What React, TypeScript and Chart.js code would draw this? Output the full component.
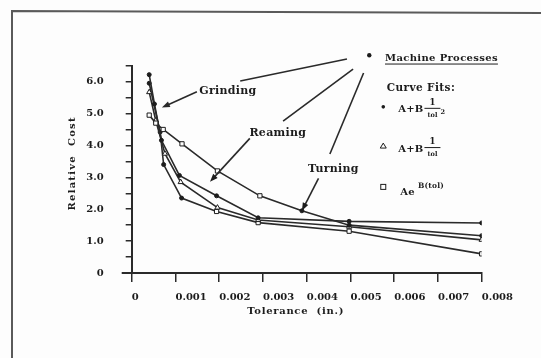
import React, { useEffect, useRef } from 'react';
import { Chart, registerables } from 'chart.js';

Chart.register(...registerables);

// ---- data ----
const xTickLabels = ['0', '0.001', '0.002', '0.003', '0.004', '0.005', '0.006', '0.007', '0.008'];
const yTickLabels = ['0', '1.0', '2.0', '3.0', '4.0', '5.0', '6.0'];

const tolUpper = [0.0004, 0.00055, 0.00072, 0.00115, 0.00196, 0.00293, 0.00389, 0.00497, 0.008];
const costUpper = [4.95, 4.7, 4.5, 4.05, 3.2, 2.42, 1.95, 1.5, 1.17];
const markUpper = ['rect', 'rect', 'rect', 'rect', 'rect', 'rect', 'circle', 'circle', 'circle'];

const tolFlat = [0.0004, 0.00052, 0.00068, 0.00109, 0.00194, 0.00289, 0.00497, 0.008];
const costFlat = [6.22, 5.3, 4.16, 3.06, 2.42, 1.73, 1.62, 1.57];
const markFlat = ['circle', 'circle', 'circle', 'circle', 'circle', 'circle', 'circle', 'circle'];

const tolTri = [0.0004, 0.00055, 0.00076, 0.00112, 0.00196, 0.00289, 0.00497, 0.008];
const costTri = [5.67, 4.78, 3.74, 2.85, 2.05, 1.66, 1.45, 1.04];
const markTri = ['triangle', 'triangle', 'triangle', 'triangle', 'triangle', 'triangle', 'triangle', 'triangle'];

const tolLow = [0.0004, 0.00065, 0.00073, 0.00114, 0.00194, 0.00289, 0.00497, 0.008];
const costLow = [5.95, 4.42, 3.4, 2.35, 1.93, 1.58, 1.31, 0.6];
const markLow = ['circle', 'circle', 'circle', 'circle', 'rect', 'rect', 'rect', 'rect'];

const seriesList = [
  { tol: tolUpper, cost: costUpper, marks: markUpper },
  { tol: tolFlat, cost: costFlat, marks: markFlat },
  { tol: tolTri, cost: costTri, marks: markTri },
  { tol: tolLow, cost: costLow, marks: markLow },
];

// ---- annotation anchors (data units) ----
const hub = { x: 0.00543, y: 6.83 };
const processNotes = [
  { text: 'Grinding', at: [0.0022, 5.71], arrow: [0.00149, 5.68, 0.00069, 5.19], link: [0.00248, 6.02, 0.00492, 6.71] },
  { text: 'Reaming', at: [0.00334, 4.38], arrow: [0.0027, 4.22, 0.00179, 2.86], link: [0.00346, 4.76, 0.00506, 6.39] },
  { text: 'Turning', at: [0.00461, 3.26], arrow: [0.00427, 2.97, 0.00389, 1.95], link: [0.00453, 3.73, 0.0053, 6.27] },
];
const legendTitle = { text: 'Machine Processes', x: 0.00579, y: 6.74 };
const fitsTitle = { text: 'Curve Fits:', x: 0.00583, y: 5.79 };
const fitRowMarkX = 0.00575;
const fitRows = [
  { mark: 'circle', y: 5.21, kind: 'inv2' },
  { mark: 'triangle', y: 3.98, kind: 'inv' },
  { mark: 'rect', y: 2.7, kind: 'exp' },
];

const FONT = '"DejaVu Serif", serif';
const INK = '#1c1c1c';
const LINE = '#2a2a2a';

function txt(ctx: CanvasRenderingContext2D, s: string, x: number, y: number, size: number, align: CanvasTextAlign = 'left', spacing = 0.5) {
  ctx.font = `bold ${size}px ${FONT}`;
  (ctx as any).letterSpacing = `${spacing}px`;
  ctx.textAlign = align;
  ctx.textBaseline = 'middle';
  ctx.fillStyle = INK;
  ctx.fillText(s, x, y);
  return ctx.measureText(s).width;
}

function arrow(ctx: CanvasRenderingContext2D, x1: number, y1: number, x2: number, y2: number) {
  const ang = Math.atan2(y2 - y1, x2 - x1);
  const L = 8, W = 3;
  ctx.beginPath();
  ctx.moveTo(x1, y1);
  ctx.lineTo(x2 - Math.cos(ang) * L * 0.7, y2 - Math.sin(ang) * L * 0.7);
  ctx.stroke();
  ctx.beginPath();
  ctx.moveTo(x2, y2);
  ctx.lineTo(x2 - Math.cos(ang) * L + Math.sin(ang) * W, y2 - Math.sin(ang) * L - Math.cos(ang) * W);
  ctx.lineTo(x2 - Math.cos(ang) * L - Math.sin(ang) * W, y2 - Math.sin(ang) * L + Math.cos(ang) * W);
  ctx.closePath();
  ctx.fill();
}

function marker(ctx: CanvasRenderingContext2D, kind: string, x: number, y: number) {
  ctx.lineWidth = 1;
  ctx.strokeStyle = INK;
  ctx.fillStyle = INK;
  if (kind === 'circle') {
    ctx.beginPath();
    ctx.arc(x, y, 1.8, 0, Math.PI * 2);
    ctx.fill();
  } else if (kind === 'triangle') {
    ctx.beginPath();
    ctx.moveTo(x, y - 3);
    ctx.lineTo(x + 3, y + 2);
    ctx.lineTo(x - 3, y + 2);
    ctx.closePath();
    ctx.stroke();
  } else {
    ctx.strokeRect(x - 2.5, y - 2.5, 5, 5);
  }
}

const decor = {
  id: 'decor',
  beforeDraw(chart: any) {
    const { ctx, width, height } = chart;
    ctx.save();
    ctx.fillStyle = '#fdfdfd';
    ctx.fillRect(0, 0, width, height);
    ctx.strokeStyle = '#5a5a5a';
    ctx.lineWidth = 2;
    ctx.beginPath();
    ctx.moveTo(12, height);
    ctx.lineTo(12, 11);
    ctx.lineTo(width, 13);
    ctx.stroke();
    ctx.restore();
  },
  afterDraw(chart: any) {
    const { ctx, chartArea } = chart;
    const xs = chart.scales.x, ys = chart.scales.y;
    const px = (v: number) => xs.getPixelForValue(v);
    const py = (v: number) => ys.getPixelForValue(v);
    ctx.save();
    ctx.strokeStyle = LINE;
    ctx.lineWidth = 2;
    ctx.beginPath();
    ctx.moveTo(chartArea.left - 10, chartArea.bottom);
    ctx.lineTo(chartArea.left, chartArea.bottom);
    ctx.stroke();

    txt(ctx, 'Tolerance  (in.)', (chartArea.left + chartArea.right) / 2 - 11, chartArea.bottom + 38, 10, 'center', 0.7);
    ctx.save();
    ctx.translate(chartArea.left - 59, (chartArea.top + chartArea.bottom) / 2 - 6);
    ctx.rotate(-Math.PI / 2);
    txt(ctx, 'Relative  Cost', 0, 0, 10, 'center', 1.2);
    ctx.restore();

    ctx.strokeStyle = LINE;
    ctx.fillStyle = LINE;
    ctx.lineWidth = 1.6;
    for (const n of processNotes) {
      ctx.beginPath();
      ctx.moveTo(px(n.link[0]), py(n.link[1]));
      ctx.lineTo(px(n.link[2]), py(n.link[3]));
      ctx.stroke();
      arrow(ctx, px(n.arrow[0]), py(n.arrow[1]), px(n.arrow[2]), py(n.arrow[3]));
      txt(ctx, n.text, px(n.at[0]), py(n.at[1]), 11, 'center', 0.3);
    }
    ctx.fillStyle = INK;
    ctx.beginPath();
    ctx.arc(px(hub.x), py(hub.y), 2.2, 0, Math.PI * 2);
    ctx.fill();

    const lw = txt(ctx, legendTitle.text, px(legendTitle.x), py(legendTitle.y), 10, 'left', 0.35);
    ctx.strokeStyle = INK;
    ctx.lineWidth = 1;
    ctx.beginPath();
    ctx.moveTo(px(legendTitle.x), py(legendTitle.y) + 6);
    ctx.lineTo(px(legendTitle.x) + lw, py(legendTitle.y) + 6);
    ctx.stroke();
    txt(ctx, fitsTitle.text, px(fitsTitle.x), py(fitsTitle.y), 10.5, 'left', 0.4);

    for (const r of fitRows) {
      const mx = px(fitRowMarkX), my = py(r.y);
      marker(ctx, r.mark, mx, my);
      const left = mx + 15;
      if (r.kind === 'exp') {
        const w = txt(ctx, 'Ae', left + 2, my + 6, 10, 'left', 0.3);
        txt(ctx, 'B(tol)', left + 2 + w + 3, my - 0.5, 7.5, 'left', 0.2);
      } else {
        const w = txt(ctx, 'A+B', left, my + 3, 10, 'left', 0.2);
        const fx = left + w + 9;
        txt(ctx, '1', fx, my - 4, 8.5, 'center', 0);
        ctx.strokeStyle = INK;
        ctx.lineWidth = 1;
        ctx.beginPath();
        ctx.moveTo(fx - 8, my + 1.5);
        ctx.lineTo(fx + 8, my + 1.5);
        ctx.stroke();
        txt(ctx, 'tol', fx, my + 8.5, 6.5, 'center', 0);
        if (r.kind === 'inv2') txt(ctx, '2', fx + 8, my + 5, 6.5, 'left', 0);
      }
    }
    ctx.restore();
  },
};

export default function App() {
  const ref = useRef<HTMLCanvasElement>(null);
  useEffect(() => {
    const tickFont = { family: FONT, size: 10, weight: 'bold' as const };
    const chart = new Chart(ref.current!, {
      type: 'line',
      data: {
        datasets: seriesList.map((s) => ({
          data: s.tol.map((t, i) => ({ x: t, y: s.cost[i] })),
          borderColor: LINE,
          borderWidth: 1.6,
          tension: 0,
          fill: false,
          pointStyle: s.marks as any,
          pointRadius: s.marks.map((m) => (m === 'circle' ? 2 : 3)),
          pointBackgroundColor: s.marks.map((m) => (m === 'circle' ? INK : '#fdfdfd')),
          pointBorderColor: INK,
          pointBorderWidth: 1,
        })),
      },
      options: {
        responsive: false,
        animation: false,
        events: [],
        layout: { padding: { left: 71.7, right: 59.3, top: 65.7, bottom: 45 } },
        plugins: { legend: { display: false }, tooltip: { enabled: false } },
        scales: {
          x: {
            type: 'linear',
            min: 0,
            max: 0.008,
            afterFit: (s: any) => { s.height = 40; },
            ticks: {
              stepSize: 0.001,
              autoSkip: false,
              maxRotation: 0,
              align: 'start',
              padding: 9,
              color: INK,
              font: tickFont,
              callback: (_v: any, i: number) => xTickLabels[i] ?? '',
            },
            grid: { drawOnChartArea: false, tickLength: 9, color: LINE, lineWidth: 1.5 },
            border: { color: LINE, width: 2 },
          },
          y: {
            min: 0,
            max: 6.5,
            afterFit: (s: any) => { s.width = 60; },
            ticks: {
              stepSize: 0.5,
              autoSkip: false,
              padding: 22,
              color: INK,
              font: tickFont,
              callback: (_v: any, i: number) => (i % 2 === 0 ? yTickLabels[i / 2] ?? '' : ''),
            },
            grid: { drawOnChartArea: false, tickLength: 6, color: LINE, lineWidth: 1.5 },
            border: { color: LINE, width: 2 },
          },
        },
      },
      plugins: [decor],
    });
    return () => chart.destroy();
  }, []);
  return (
    <div style={{ position: 'fixed', left: 0, top: 0, width: 541, height: 358, background: '#fdfdfd' }}>
      <canvas ref={ref} width={541} height={358} style={{ display: 'block', width: 541, height: 358 }} />
    </div>
  );
}
